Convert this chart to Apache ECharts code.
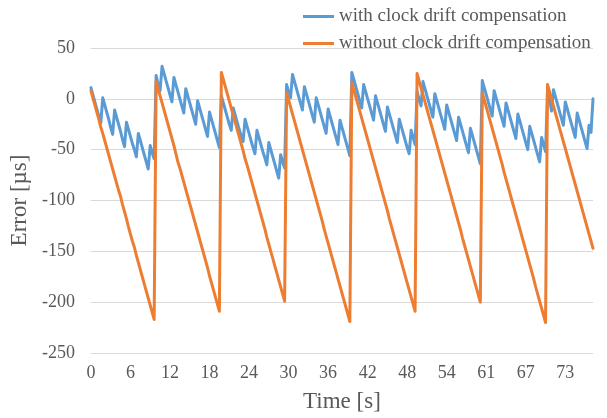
<!DOCTYPE html>
<html>
<head>
<meta charset="utf-8">
<script src="https://cdn.jsdelivr.net/npm/echarts@6/dist/echarts.min.js"></script>
<style>
  html, body { margin: 0; padding: 0; background: #fff; }
  #mainChart { width: 607px; height: 418px; }
</style>
</head>
<body>
<div id="mainChart"></div>
<script>
// x axis tick labels (time in s), one every 20 samples
var tickLabels = ['0', '6', '12', '18', '24', '30', '36', '42', '48', '54', '61', '67', '73'];
var tickEvery = 20;

var seriesNames = ['with clock drift compensation', 'without clock drift compensation'];

// error [µs] with compensation
var withComp = [
  11, 4, -3, -10, -17, -24, 1, -6, -13, -20, -28, -35, -11, -18, -25, -32, -40, -47, -23, -30, -37, -44, -50, -57, -34, -41, -48, -55, -62, -69, -46, -53, -59,
  23, 14, 8, 32, 25, 18, 11, 4, -3, 21, 14, 7, 0, -7, -14, 10, 3, -4, -11, -18, -25, -2, -9, -16, -23, -30, -37, -13, -20, -27, -34, -41, -48,
  3, -4, -11, -18, -25, -31, -9, -16, -23, -30, -36, -42, -20, -27, -34, -41, -48, -54, -31, -38, -45, -52, -58, -65, -43, -50, -57, -64, -71, -78, -55, -62, -68,
  14, 7, 1, 24, 17, 10, 3, -4, -11, 12, 5, -2, -9, -16, -23, 1, -6, -13, -20, -27, -34, -10, -17, -24, -31, -38, -45, -21, -28, -35, -42, -49, -56,
  26, 19, 12, 5, -2, -9, 14, 7, 0, -7, -14, -21, 3, -4, -11, -18, -25, -32, -8, -15, -22, -29, -36, -43, -20, -27, -34, -41, -48, -54, -31, -38, -45,
  7, 0, -7, 17, 10, 3, -4, -11, -18, 5, -2, -9, -16, -23, -30, -6, -13, -20, -27, -34, -41, -18, -25, -32, -39, -46, -53, -29, -36, -43, -50, -57, -64,
  18, 11, 4, -3, -10, -17, 8, 1, -6, -13, -20, -27, -4, -11, -18, -25, -32, -39, -15, -22, -29, -36, -43, -50, -27, -34, -41, -48, -55, -62, -38, -45, -52,
  9, 0, -12, 9, 2, -5, -12, -19, -26, -3, -10, -17, -24, -31, -38, -14, -21, -28, -35, -42, -49, -26, -33, 0
];

// error [µs] without compensation
var withoutComp = [
  8, 1, -6, -13, -20, -28, -34, -41, -48, -55, -62, -69, -76, -83, -90, -96, -104, -111, -118, -126, -133, -140, -146, -154, -161, -168, -175, -182, -189, -196, -203, -210, -217,
  17, 10, 3, -4, -11, -18, -25, -32, -39, -46, -54, -62, -68, -75, -82, -89, -96, -103, -110, -117, -124, -131, -138, -145, -152, -159, -166, -174, -181, -188, -195, -202, -209,
  26, 19, 12, 5, -2, -9, -16, -23, -30, -37, -44, -51, -59, -65, -72, -79, -86, -93, -100, -107, -114, -121, -128, -136, -143, -150, -157, -164, -171, -178, -185, -192, -199,
  6, -1, -8, -15, -22, -29, -36, -43, -50, -57, -64, -71, -78, -85, -92, -99, -106, -113, -120, -128, -135, -142, -149, -156, -163, -170, -177, -184, -191, -198, -205, -212, -219,
  16, 9, 2, -5, -12, -19, -26, -33, -40, -47, -54, -61, -68, -75, -82, -89, -96, -103, -110, -118, -125, -132, -139, -146, -153, -160, -167, -174, -181, -188, -195, -202, -209,
  25, 18, 11, 4, -3, -10, -17, -24, -31, -38, -45, -52, -59, -66, -73, -80, -87, -94, -101, -108, -115, -122, -129, -137, -144, -151, -158, -165, -172, -179, -186, -193, -200,
  6, -1, -8, -15, -22, -29, -36, -43, -50, -57, -64, -72, -79, -86, -93, -100, -107, -114, -121, -128, -135, -142, -149, -156, -163, -170, -177, -185, -192, -199, -206, -213, -220,
  14, 7, 0, -7, -14, -21, -28, -35, -42, -49, -56, -63, -70, -77, -84, -91, -98, -105, -112, -119, -126, -133, -140, -147
];

var yTicks = { min: -250, max: 50, interval: 50 };

var categories = withComp.map(function(v, i) {
  return i % tickEvery === 0 ? (tickLabels[i / tickEvery] || '') : '';
});

var font = "'Liberation Serif', 'Times New Roman', serif";
var grey = '#595959';

var chart = echarts.init(document.getElementById('mainChart'));
var option = {
  animation: false,
  textStyle: { fontFamily: font },
  legend: {
    orient: 'vertical',
    left: 298,
    top: 2,
    icon: 'rect',
    itemWidth: 31,
    itemHeight: 3,
    itemGap: 8,
    textStyle: { fontFamily: font, fontSize: 19, color: grey },
    data: seriesNames
  },
  grid: { left: 90, right: 14, top: 48, bottom: 57 },
  xAxis: {
    type: 'category',
    boundaryGap: false,
    data: categories,
    name: 'Time [s]',
    nameLocation: 'middle',
    nameGap: 37,
    nameTextStyle: { fontFamily: font, fontSize: 23, color: grey },
    axisLine: { show: false },
    axisTick: { show: false },
    splitLine: { show: false },
    axisLabel: { interval: tickEvery - 1, margin: 11, fontFamily: font, fontSize: 18, color: grey }
  },
  yAxis: {
    type: 'value',
    min: yTicks.min,
    max: yTicks.max,
    interval: yTicks.interval,
    name: 'Error [µs]',
    nameLocation: 'middle',
    nameGap: 52,
    nameTextStyle: { fontFamily: font, fontSize: 23, color: grey },
    axisLine: { show: false },
    axisTick: { show: false },
    splitLine: { lineStyle: { color: '#D9D9D9', width: 1 } },
    axisLabel: { margin: 16, fontFamily: font, fontSize: 18, color: grey }
  },
  series: [
    {
      name: seriesNames[0],
      type: 'line',
      data: withComp,
      symbol: 'none',
      lineStyle: { color: '#5B9BD5', width: 3, cap: 'round', join: 'round' },
      itemStyle: { color: '#5B9BD5' }
    },
    {
      name: seriesNames[1],
      type: 'line',
      data: withoutComp,
      symbol: 'none',
      lineStyle: { color: '#ED7D31', width: 3, cap: 'round', join: 'round' },
      itemStyle: { color: '#ED7D31' }
    }
  ]
};
chart.setOption(option);
</script>
</body>
</html>
